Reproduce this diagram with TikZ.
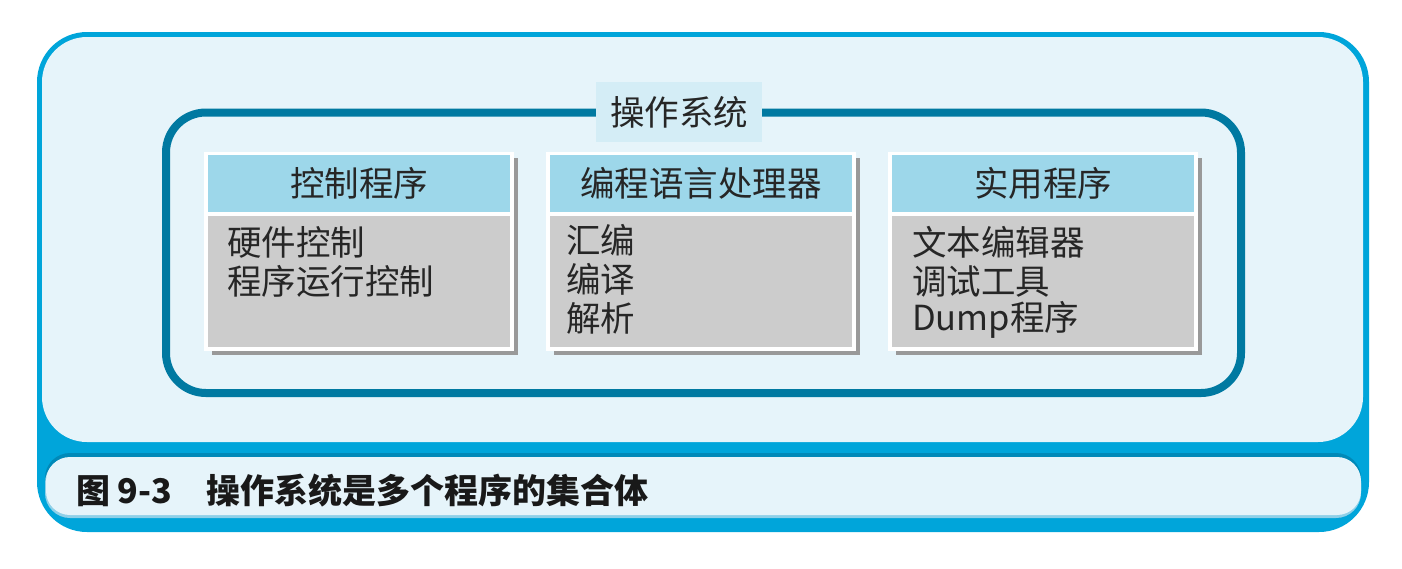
\documentclass[tikz,border=0pt]{standalone}
\usepackage{fontspec}
\newfontfamily\cjk{Noto Sans CJK SC}
\definecolor{outerblue}{HTML}{00A5DA}
\definecolor{panelfill}{HTML}{E6F4FA}
\definecolor{framecol}{HTML}{0079A1}
\definecolor{labelfill}{HTML}{D4EDF6}
\definecolor{headfill}{HTML}{9DD7EA}
\definecolor{bodyfill}{HTML}{CCCCCC}
\definecolor{shadowcol}{HTML}{999999}
\definecolor{capdark}{HTML}{0089B8}
\definecolor{caplight}{HTML}{8FD0E8}
\begin{document}
\begin{tikzpicture}[x=1pt,y=-1pt,
  headtext/.style={font=\cjk\fontsize{34.5}{39}\selectfont, text=black!85},
  linetext/.style={font=\cjk\fontsize{34.5}{39}\selectfont, text=black!85, anchor=west, inner sep=0pt},
  whitebox/.style={fill=white, draw=none, anchor=north west, inner sep=0pt, minimum width=310pt, minimum height=199pt},
  headbox/.style={fill=headfill, draw=none, anchor=north west, inner sep=0pt, minimum width=302pt, minimum height=57pt, headtext},
  bodybox/.style={fill=bodyfill, draw=none, anchor=north west, inner sep=0pt, minimum width=302pt, minimum height=131pt},
  captext/.style={font=\cjk\bfseries\fontsize{34}{40}\selectfont, text=black!90, anchor=west, inner sep=0pt}
]
\useasboundingbox (0,0) rectangle (1402,568);

% outer frame and its two panels
\fill[outerblue, rounded corners=50pt] (37,32) rectangle (1369,532);
\fill[panelfill, rounded corners=45pt] (42,37) rectangle (1363,442);
\fill[capdark, rounded corners=25pt] (45,453) rectangle (1361,512);
\fill[caplight, rounded corners=25pt] (45,458) rectangle (1361,518);
\fill[panelfill, rounded corners=24pt] (46,457) rectangle (1361,515);
\node[captext] (cap) at (76,491) {图 9-3　操作系统是多个程序的集合体};

% operating system frame
\draw[framecol, line width=8pt, rounded corners=40pt] (166,112.5) rectangle (1241,393);
\node[fill=labelfill, minimum width=166pt, minimum height=60pt, inner sep=0pt, headtext] (os) at (679,112) {操作系统};

% program groups: shadow, white border, header, body
\foreach \x/\n in {204/1, 546/2, 888/3} {
  \fill[shadowcol] (\x+8,158) rectangle (\x+314,355);
  \node[whitebox] (b\n) at (\x,152) {};
  \node[headbox] (h\n) at (\x+4,155) {};
  \node[bodybox] (t\n) at (\x+4,216) {};
}
\node[headtext] (h1l) at (h1.center) {控制程序};
\node[headtext] (h2l) at (h2.center) {编程语言处理器};
\node[headtext] (h3l) at (h3.center) {实用程序};

\node[linetext] (l11) at (227,242) {硬件控制};
\node[linetext] (l12) at (227,281) {程序运行控制};

\node[linetext] (l21) at (566,240) {汇编};
\node[linetext] (l22) at (566,279) {编译};
\node[linetext] (l23) at (566,318) {解析};

\node[linetext] (l31) at (912,242) {文本编辑器};
\node[linetext] (l32) at (912,281) {调试工具};
\node[linetext] (l33) at (912,320) {Dump程序};
\end{tikzpicture}
\end{document}
